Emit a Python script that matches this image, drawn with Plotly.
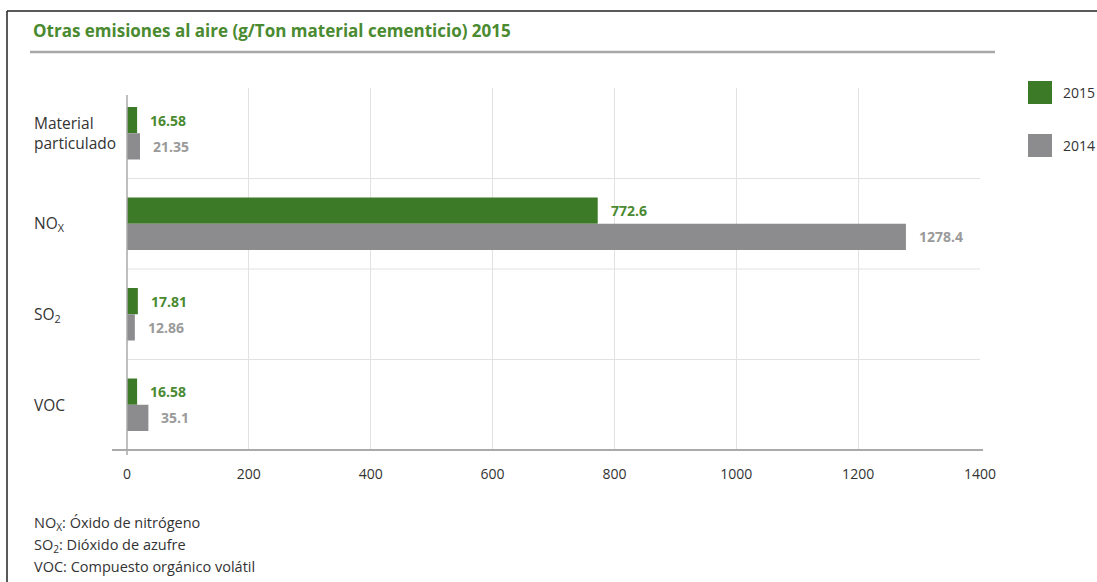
import plotly.graph_objects as go

categories = ["Material particulado", "NOx", "SO2", "VOC"]
category_labels = ["Material<br>particulado", "NO<sub>X</sub>", "SO<sub>2</sub>", "VOC"]
values_2015 = [16.58, 772.6, 17.81, 16.58]
values_2014 = [21.35, 1278.4, 12.86, 35.1]
labels_2015 = ["16.58", "772.6", "17.81", "16.58"]
labels_2014 = ["21.35", "1278.4", "12.86", "35.1"]
series_names = ["2015", "2014"]
x_ticks = [0, 200, 400, 600, 800, 1000, 1200, 1400]
title_text = "Otras emisiones al aire (g/Ton material cementicio) 2015"
footnotes = ["NO<sub>X</sub>: Óxido de nitrógeno", "SO<sub>2</sub>: Dióxido de azufre",
             "VOC: Compuesto orgánico volátil"]

W, H = 1097, 582
L, R, T, B = 127, 980, 88, 450
GREEN = "#3d7a28"
GRAY = "#8c8c8e"
GREEN_TXT = "#4a8a30"
GRAY_TXT = "#9a9a9a"
FONT = "Open Sans"


def px(xp):
    return (xp - L) / (R - L)


def py(yp):
    return (B - yp) / (B - T)


fig = go.Figure()
fig.add_trace(go.Bar(y=categories, x=values_2015, name=series_names[0], orientation="h",
                     marker=dict(color=GREEN, line=dict(width=0))))
fig.add_trace(go.Bar(y=categories, x=values_2014, name=series_names[1], orientation="h",
                     marker=dict(color=GRAY, line=dict(width=0))))

annotations = []
for c, v, t in zip(categories, values_2015, labels_2015):
    annotations.append(dict(x=v, y=c, xref="x", yref="y", text="<b>%s</b>" % t, showarrow=False,
                            xanchor="left", yanchor="middle", xshift=11, yshift=13,
                            font=dict(family=FONT, size=14, color=GREEN_TXT)))
for c, v, t in zip(categories, values_2014, labels_2014):
    annotations.append(dict(x=v, y=c, xref="x", yref="y", text="<b>%s</b>" % t, showarrow=False,
                            xanchor="left", yanchor="middle", xshift=11, yshift=-13,
                            font=dict(family=FONT, size=14, color=GRAY_TXT)))
for c, lab in zip(categories, category_labels):
    annotations.append(dict(x=px(32), y=c, xref="paper", yref="y", text=lab, showarrow=False,
                            xanchor="left", yanchor="middle", align="left",
                            font=dict(family=FONT, size=15.5, color="#333333")))
# title
annotations.append(dict(x=px(31), y=py(30), xref="paper", yref="paper", text="<b>%s</b>" % title_text,
                        showarrow=False, xanchor="left", yanchor="middle",
                        font=dict(family=FONT, size=17, color=GREEN_TXT)))
# legend text
for name, yc in zip(series_names, [92.5, 145.5]):
    annotations.append(dict(x=px(1061), y=py(yc), xref="paper", yref="paper", text=name,
                            showarrow=False, xanchor="left", yanchor="middle",
                            font=dict(family=FONT, size=14, color="#333333")))
# footnotes
for i, (fn, yc) in enumerate(zip(footnotes, [523, 545, 566])):
    annotations.append(dict(x=px(32), y=py(yc), xref="paper", yref="paper", text=fn,
                            showarrow=False, xanchor="left", yanchor="middle",
                            font=dict(family=FONT, size=14.5, color="#333333")))

shapes = []
# category separators
for k in range(len(categories) - 1):
    shapes.append(dict(type="line", xref="paper", yref="y", x0=0, x1=1, y0=k + 0.5, y1=k + 0.5,
                       line=dict(color="#e2e2e2", width=1), layer="below"))
# axis lines
shapes.append(dict(type="line", xref="paper", yref="paper", x0=px(112), x1=px(983), y0=0, y1=0,
                   line=dict(color="#aaaaaa", width=2)))
shapes.append(dict(type="line", xref="paper", yref="paper", x0=0, x1=0, y0=py(455), y1=py(95),
                   line=dict(color="#aaaaaa", width=1.5)))
# title rule
shapes.append(dict(type="line", xref="paper", yref="paper", x0=px(30), x1=px(995), y0=py(52), y1=py(52),
                   line=dict(color="#a8a8a8", width=2.5)))
# border
shapes.append(dict(type="line", xref="paper", yref="paper", x0=px(7), x1=px(1100), y0=py(11), y1=py(11),
                   line=dict(color="#222222", width=1.5)))
shapes.append(dict(type="line", xref="paper", yref="paper", x0=px(7), x1=px(7), y0=py(11), y1=py(590),
                   line=dict(color="#222222", width=1.5)))
# legend squares
for col, (y0, y1) in zip([GREEN, GRAY], [(81, 104), (134, 157)]):
    shapes.append(dict(type="rect", xref="paper", yref="paper", x0=px(1028), x1=px(1052),
                       y0=py(y1), y1=py(y0), fillcolor=col, line=dict(width=0)))

fig.update_layout(
    width=W, height=H,
    margin=dict(l=L, r=W - R, t=T, b=H - B),
    paper_bgcolor="white", plot_bgcolor="white",
    barmode="group", bargap=0.42, bargroupgap=0,
    showlegend=False,
    font=dict(family=FONT, size=14, color="#333333"),
    xaxis=dict(range=[0, 1400], tickvals=x_ticks, ticktext=[str(v) for v in x_ticks],
               showgrid=True, gridcolor="#e2e2e2", gridwidth=1, zeroline=False,
               showline=False, ticks="", ticklabelstandoff=14,
               tickfont=dict(family=FONT, size=14, color="#333333")),
    yaxis=dict(categoryorder="array", categoryarray=categories, autorange="reversed",
               showticklabels=False, showgrid=False, zeroline=False, showline=False, ticks=""),
    annotations=annotations,
    shapes=shapes,
)

fig.write_html("out.html")
